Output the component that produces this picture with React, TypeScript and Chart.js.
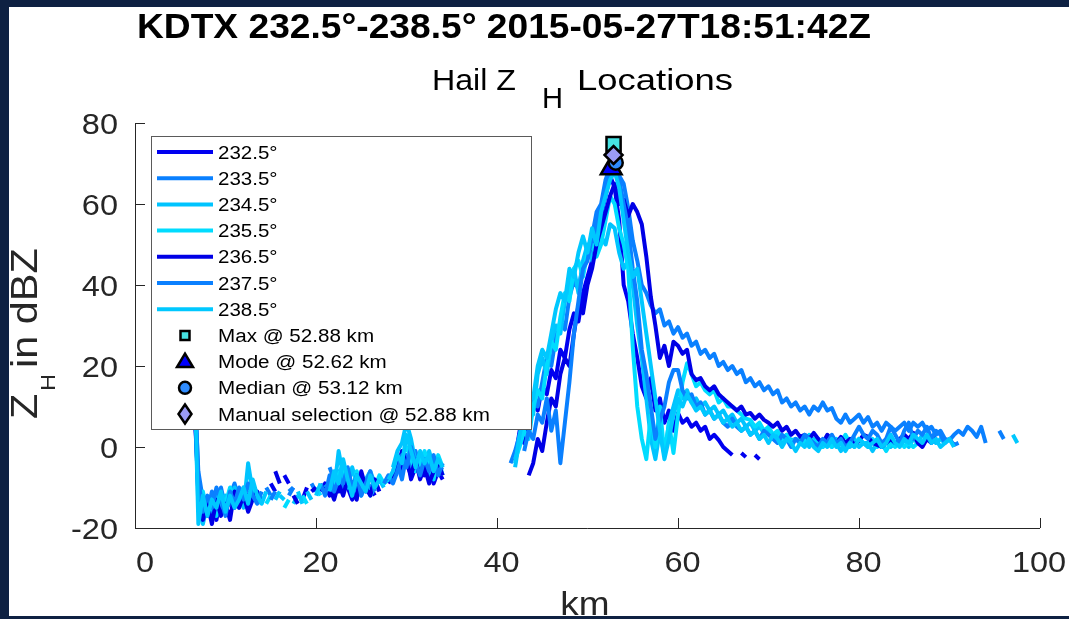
import React, { useEffect, useRef } from 'react';
import { Chart, registerables } from 'chart.js';

Chart.register(...registerables);

// ---------------- data ----------------
const KM_NEAR = [
  6.5, 7, 7.5, 8, 8.5, 9, 9.5, 10, 10.5, 11,
  11.5, 12, 12.5, 13, 13.5, 14, 14.5, 15, 15.5, 16,
  16.5, 17, 17.5, 18, 18.5, 19, 19.5, 20, 20.5, 21,
  21.5, 22, 22.5, 23, 23.5, 24, 24.5, 25, 25.5, 26,
  26.5, 27, 27.5, 28, 28.5, 29, 29.5, 30, 30.5, 31,
  31.5, 32, 32.5, 33, 33.5, 34,
];
const GAP_KM = 38;
const KM_FAR = [
  41.5, 42, 42.5, 43, 43.5, 44, 44.5, 45, 45.5, 46,
  46.5, 47, 47.5, 48, 48.5, 49, 49.5, 50, 50.5, 51,
  51.5, 52, 52.5, 53, 53.5, 54, 54.5, 55, 55.5, 56,
  56.5, 57, 57.5, 58, 58.5, 59, 59.5, 60, 60.5, 61,
  61.5, 62, 62.5, 63, 63.5, 64, 64.5, 65, 65.5, 66,
  66.5, 67, 67.5, 68, 68.5, 69, 69.5, 70, 70.5, 71,
  71.5, 72, 72.5, 73, 73.5, 74, 74.5, 75, 75.5, 76,
  76.5, 77, 77.5, 78, 78.5, 79, 79.5, 80, 80.5, 81,
  81.5, 82, 82.5, 83, 83.5, 84, 84.5, 85, 85.5, 86,
  86.5, 87, 87.5, 88, 88.5, 89, 89.5, 90, 90.5, 91,
  91.5, 92, 92.5, 93, 93.5, 94, 94.5, 95, 95.5, 96,
  96.5, 97, 97.5,
];

const AZIMUTHS = ['232.5°', '233.5°', '234.5°', '235.5°', '236.5°', '237.5°', '238.5°'];
const COLORS = ['#0000f0', '#0a80ff', '#00c4ff', '#00dcff', '#0000e6', '#0a80ff', '#00c8ff'];

const Z_232_NEAR = [
  12, -9, -15, -17, -14, -18, -12, -16, -13, -15,
  -11, -14, -12, -10, -13, null, null, -9, -11, null,
  -7, -9, null, null, -13, -10, null, null, -11, -9,
  -12, -8, -11, -6, -10, -13, -9, -7, -11, -10,
  -12, null, null, -9, -7, -3, -6, -2, -8, -5,
  -3, -7, -4, -9, -6, -8,
];
const Z_233_NEAR = [
  18, -6, -13, -16, -11, -14, -10, -15, -12, -9,
  -13, -10, -14, -11, -12, null, -10, -12, null, null,
  null, -11, -10, null, null, null, -9, -11, null, null,
  -5, -8, -6, -10, -7, -12, -9, -11, -8, -10,
  null, -9, -8, null, -6, -4, -8, -2, -5, -1,
  -6, -4, -8, -3, -6, -5,
];
const Z_234_NEAR = [
  22, -12, -19, -14, -16, -11, -15, -12, -14, -10,
  -12, -15, -4, -11, -13, -12, null, null, -13, -11,
  null, null, -14, -12, null, -11, -13, null, null, -10,
  -9, -11, -1, -7, -10, -5, -9, -12, -8, -6,
  -9, -8, -10, null, -5, -1, 1, 6, 2, -4,
  -2, -6, -1, -5, -3, -7,
];
const Z_235_NEAR = [
  20, -15, -11, -16, -13, -17, -12, -14, -10, -13,
  -15, -11, -13, -9, -12, null, -14, -12, null, null,
  -15, -13, null, null, -12, -14, null, -10, -12, null,
  -8, -10, -7, -4, -9, -11, -6, -10, -9, -12,
  -10, -7, -9, -8, null, -4, -2, 0, -3, -6,
  -4, -1, -5, -8, -2, -5,
];
const Z_236_NEAR = [
  16, -12, -18, -14, -19, -13, -17, -14, -18, -11,
  -15, -12, -16, -13, -11, -14, null, null, -6, -9,
  null, null, -12, -14, null, null, -11, -10, null, null,
  -10, -13, -9, -12, -8, -11, -13, -6, -10, -12,
  -8, -11, null, null, -8, -5, -1, -4, -7, -3,
  -8, -5, -9, -6, -4, -7,
];
const Z_237_NEAR = [
  24, -8, -16, -12, -15, -10, -13, -17, -11, -14,
  -10, -13, -9, -12, -14, -11, null, -13, -11, null,
  null, -12, -10, null, null, -13, null, null, -9, -12,
  -7, -11, -8, -9, -5, -10, -7, -12, -9, -6,
  -11, null, -9, -7, -9, -6, -2, -5, 0, -4,
  -7, -3, -6, -2, -7, -4,
];
const Z_238_NEAR = [
  25, -19, -12, -17, -13, -15, -11, -16, -12, -15,
  -13, -10, -14, -8, -12, -14, -11, null, null, -12,
  -13, null, null, -11, -14, null, null, -12, -9, null,
  -11, -6, -9, -3, -8, -12, -7, -9, -11, -7,
  -10, -8, null, -8, -6, -2, -4, 3, -1, -5,
  -1, -4, -2, -6, -3, -5,
];

const Z_232_FAR = [
  null, -3, 4, 1, 7, 11, 9, 15, 13, 19,
  17, 24, 22, 29, 33, 31, 38, 42, 46, 52,
  57, 62, 67, 64, 56, 40, 36, 28, 22, 15,
  12, 17, 9, 12, 6, 9, 4, 8.4, 6, 7,
  5, 6, 4, 5, 2, 3, 1.7, 0, -1, -2,
  null, -1.5, -2.5, null, -2, -3, null, null, null, null,
  null, null, null, null, null, null, null, null, null, null,
  null, null, null, null, null, null, null, null, null, null,
  null, null, null, null, null, null, null, null, null, null,
  null, null, null, null, null, null, null, null, null, null,
  null, null, null, null, null, null, null, null, null, null,
  null, null, null,
];
const Z_233_FAR = [
  -4, -1, 3, 8, 5, 12, 10, 16, 22, 20,
  27, 31, 29, 37, 41, 39, 45, 49, 47, 55,
  59, 63, 69, 72, 67, 65, 59, 51, 46, 40,
  38, 35, 33, 34, 30, 31, 28, 29.6, 27, 28,
  25, 26, 23, 24, 22, 23, 20, 21, 19, 20,
  18, 19, 16, 17, 15, 16, 14, 15, 13, 14,
  11, 12, 10, 11, 9, 10, 8, 10, 9, 11,
  9, 9.6, 7, 6, 8, 6, 7, 8, 6, 7.4,
  5, 6, 4, 6, 5, 4, 5, 6, 4, 6,
  5, 6, 4, 5, 3, 4, 2, 1.7, 3, 4,
  3, 5, 4, 2.5, 5, 1, null, null, 4, 2,
  null, null, null,
];
const Z_234_FAR = [
  null, -5, 2, 6, 12, 8, 18, 22, 18, 26,
  30, 28, 36, 40, 44, 38, 46, 50, 46, 48,
  52, 50, 55, 54, 48, 44, 46, 40, 30, 22,
  12, 2, -3, 4, -2, 6, 10, 14, 12, 14,
  11, 12, 10, 11, 9, 10, 8, 9, 7, 8,
  6, 7, 5, 6, 4, 5, 3.5, 4, 2, 3,
  1, 3, 1.7, 2, 1, 2, 0, 2, 1, 0,
  2, 0, 1, -1, 1, 0, 2, 0, 1, 1,
  -1, 1, 0, 2, 0, 1, 1, 2, 0, 2,
  1, 3, 2, 2.5, 1, 2, 1, null, null, null,
  null, null, null, null, null, null, null, null, null, null,
  null, null, null,
];
const Z_235_FAR = [
  null, -3, 0, 4, 2, 10, 14, 12, 20, 26,
  24, 32, 38, 36, 44, 46, 42, 48, 50, 47,
  50, 56, 62, 60, 54, 50, 44, 24.7, 10, 2,
  -3, 8, 0, 10, -2, 6, -1.5, 8, 16, 20.7,
  18, 15, 16, 14, 13, 14, 11, 12, 10, 10,
  9, 8, 7, 6.7, 5, 6, 4, 5, 3, 4,
  2, 3, 1, 2, 1.7, 1, 3, 1, 2, 0,
  1, 0, 2, 1, 3, 1, 0, 2, 1, 0,
  2, 0, 1, -1, 1, 0, 2, 0, 1, 0,
  1, null, null, null, null, null, null, null, null, null,
  null, null, null, null, null, null, null, null, null, null,
  null, null, null,
];
const Z_236_FAR = [
  null, null, null, null, -7, -4, 2, -1, 6, 12,
  10, 18, 22, 20, 28, 35, 33, 40, 44, 50,
  54, 58, 62, 65, 60, 61, 57, 60, 58, 55,
  47, 37, 30, 22, 25, 20, 26, 25, 23, 24,
  18, 16.5, 17, 15, 14, 15, 13, 12, 11, 10,
  9, 10, 8, 8.4, 7, 8, 6.7, 6, 5, 6,
  4, 5, 3, 4, 2.5, 3, 2, 3.5, 2, 1,
  3, 2, 1, 2.5, 1, 2, 0.5, 1.5, 3, 2.5,
  1, 0.5, 0, 1, 2, 1, 2, 3, 2, 3.5,
  1, 0, 2, 1, 2.5, null, null, null, null, null,
  null, null, null, null, null, null, null, null, null, null,
  null, null, null,
];
const Z_237_FAR = [
  null, null, null, -1, 4, 2, 8, 6, 12, 4,
  9, -4, 6, 16, 28, 36, 44, 46, 52, 58,
  60, 66, 69, 70, 66, 60, 54, 44, 36, 24,
  18, 10, 2, 6.7, 10, 16, 19, 19, 14, 12,
  13, 10, 11, 8, 9, 7, 8, 6, 5, 7,
  5, 4, 5, 3, 4, 2, 4, 3, 2, 1,
  3, 2, 0, 2, 1, 3, 2, 1, 0, 2,
  1, 3, 1, 2, 0, 1, 3, 5, 3, 2,
  4, 3, 1, 2, 5, 3, 1, 4, 6, 2,
  4, 3, 5, 2, 4, 3, 1, 2, 0.5, 1,
  null, null, null, null, null, null, null, null, null, null,
  null, null, null,
];
const Z_238_FAR = [
  null, -4, 3, 8, 14, 12, 20, 24, 22, 28,
  34, 38, 36, 44, 42, 48, 52, 48, 54, 50,
  58, 62, 66, 68, 64, 56, 48, 42, 44, 36,
  28, 20, 12, 4, -3, 2, 8, 12, 10, 13,
  11, 9, 10, 8, 9, 7, 8, 6, 7, 5,
  6, 4, 5, 3, 4, 2, 3, 1, 3, 2,
  0, 2, 1, -1, 1, 0, 2, 0, -1, 1,
  0, 2, 0, 1, -1, 1, 0, 2, 1, 0,
  1, 2, 0, 1, 3, 1, 0, 2, 1, 3,
  2, 1, 3, 1, 2, 0, 1, 2, 0, null,
  null, null, null, null, null, null, null, null, null, null,
  null, 3, 1,
];

const NEAR_SERIES = [Z_232_NEAR, Z_233_NEAR, Z_234_NEAR, Z_235_NEAR, Z_236_NEAR, Z_237_NEAR, Z_238_NEAR];
const FAR_SERIES = [Z_232_FAR, Z_233_FAR, Z_234_FAR, Z_235_FAR, Z_236_FAR, Z_237_FAR, Z_238_FAR];

const MARKER_LABELS = ['Max @ 52.88 km', 'Mode @ 52.62 km', 'Median @ 53.12 km', 'Manual selection @ 52.88 km'];
const MARKER_KM = [52.88, 52.62, 53.12, 52.88];
const MARKER_Z = [74.8, 68.8, 70.2, 72.1];
const MARKER_FILL = ['#46e3e3', '#0000ff', '#2f8cff', '#9b9bf5'];
const MARKER_STYLE = ['rect', 'triangle', 'circle', 'rectRot'];
const MARKER_RADIUS = [10, 12, 7, 9];

const X_TICKS = [0, 20, 40, 60, 80, 100];
const Y_TICKS = [-20, 0, 20, 40, 60, 80];

const TITLE = 'KDTX 232.5°-238.5° 2015-05-27T18:51:42Z';
const SUBTITLE_PARTS = ['Hail Z', 'H', 'Locations'];
const Y_LABEL_PARTS = ['Z', 'H', 'in dBZ'];
const X_LABEL = 'km';

// ---------------- drawing helpers ----------------
const FONT = '"Liberation Sans", Arial, Helvetica, sans-serif';
const NAVY = '#0e2142';
const AXIS = '#262626';

function measure(ctx: CanvasRenderingContext2D, s: string, size: number, bold = false) {
  ctx.save();
  ctx.font = `${bold ? 'bold ' : ''}${size}px ${FONT}`;
  const w = ctx.measureText(s).width;
  ctx.restore();
  return w;
}

function drawText(
  ctx: CanvasRenderingContext2D, s: string, x: number, y: number, size: number,
  opts: { bold?: boolean; align?: string; sx?: number; color?: string } = {}
) {
  const sx = opts.sx ?? 1.12;
  ctx.save();
  ctx.font = `${opts.bold ? 'bold ' : ''}${size}px ${FONT}`;
  const w = ctx.measureText(s).width * sx;
  const left = opts.align === 'center' ? x - w / 2 : opts.align === 'right' ? x - w : x;
  ctx.translate(left, y);
  ctx.scale(sx, 1);
  ctx.fillStyle = opts.color ?? '#000';
  ctx.textAlign = 'left';
  ctx.textBaseline = 'alphabetic';
  ctx.fillText(s, 0, 0);
  ctx.restore();
  return w;
}

// draw text stretched to a given width starting at x
function drawFitted(ctx: CanvasRenderingContext2D, s: string, x: number, y: number, size: number, width: number, bold = false) {
  const raw = measure(ctx, s, size, bold);
  drawText(ctx, s, x, y, size, { bold, sx: width / raw });
}

function legendMarker(ctx: CanvasRenderingContext2D, style: string, x: number, y: number, fill: string) {
  ctx.save();
  ctx.fillStyle = fill;
  ctx.strokeStyle = '#000';
  ctx.lineWidth = 2.5;
  ctx.lineJoin = 'miter';
  ctx.beginPath();
  if (style === 'rect') {
    ctx.rect(x - 4.5, y - 4.5, 9, 9);
  } else if (style === 'triangle') {
    ctx.moveTo(x, y - 8);
    ctx.lineTo(x + 8, y + 5.5);
    ctx.lineTo(x - 8, y + 5.5);
    ctx.closePath();
  } else if (style === 'circle') {
    ctx.arc(x, y, 6, 0, Math.PI * 2);
  } else {
    ctx.moveTo(x, y - 9.5);
    ctx.lineTo(x + 6.5, y);
    ctx.lineTo(x, y + 9.5);
    ctx.lineTo(x - 6.5, y);
    ctx.closePath();
  }
  ctx.fill();
  ctx.stroke();
  ctx.restore();
}

const decorPlugin = {
  id: 'matlabDecor',
  beforeDraw(chart: any) {
    const ctx = chart.ctx as CanvasRenderingContext2D;
    ctx.save();
    ctx.fillStyle = '#ffffff';
    ctx.fillRect(0, 0, chart.width, chart.height);
    ctx.restore();
  },
  afterDraw(chart: any) {
    const ctx = chart.ctx as CanvasRenderingContext2D;
    const ca = chart.chartArea;
    const xs = chart.scales.x;
    const ys = chart.scales.y;

    // axes lines
    ctx.save();
    ctx.strokeStyle = AXIS;
    ctx.lineWidth = 1;
    ctx.beginPath();
    ctx.moveTo(Math.round(ca.left) + 0.5, Math.round(ca.top));
    ctx.lineTo(Math.round(ca.left) + 0.5, Math.round(ca.bottom) + 0.5);
    ctx.lineTo(Math.round(ca.right), Math.round(ca.bottom) + 0.5);
    ctx.stroke();
    // inward ticks
    ctx.beginPath();
    Y_TICKS.forEach((v) => {
      const py = Math.round(ys.getPixelForValue(v)) + 0.5;
      ctx.moveTo(ca.left, py);
      ctx.lineTo(ca.left + 10, py);
    });
    X_TICKS.forEach((v) => {
      const px = Math.round(xs.getPixelForValue(v)) + 0.5;
      ctx.moveTo(px, ca.bottom);
      ctx.lineTo(px, ca.bottom - 10);
    });
    ctx.stroke();
    ctx.restore();

    // tick labels
    Y_TICKS.forEach((v) => {
      const py = ys.getPixelForValue(v);
      drawText(ctx, String(v), ca.left - 17, py + 10.5, 29, { align: 'right', color: AXIS });
    });
    X_TICKS.forEach((v) => {
      const px = xs.getPixelForValue(v);
      const s = String(v);
      const off = 10 - 5.5 * (s.length - 1);
      drawText(ctx, s, px + off, ca.bottom + 44, 29, { align: 'center', color: AXIS });
    });

    // x label
    drawText(ctx, X_LABEL, 585, ca.bottom + 87, 33, { align: 'center', color: AXIS });

    // y label (rotated, with subscript)
    ctx.save();
    ctx.translate(37, 419);
    ctx.rotate(-Math.PI / 2);
    drawText(ctx, Y_LABEL_PARTS[0], 0, 0, 37, { color: AXIS });
    drawText(ctx, Y_LABEL_PARTS[1], 28, 18, 21, { color: AXIS });
    drawText(ctx, Y_LABEL_PARTS[2], 51, 0, 37, { color: AXIS });
    ctx.restore();

    // title
    drawFitted(ctx, TITLE, 137, 38, 35, 734, true);

    // subtitle with subscript
    drawFitted(ctx, SUBTITLE_PARTS[0], 432, 90, 29, 84);
    drawFitted(ctx, SUBTITLE_PARTS[1], 542, 108, 29, 21);
    drawFitted(ctx, SUBTITLE_PARTS[2], 577, 90, 29, 156);

    // legend
    const lx = 151.5, ly = 136.5, lw = 380, lh = 293;
    ctx.save();
    ctx.fillStyle = '#ffffff';
    ctx.fillRect(lx, ly, lw, lh);
    ctx.strokeStyle = '#5a5a5a';
    ctx.lineWidth = 1;
    ctx.strokeRect(lx, ly, lw, lh);
    ctx.restore();
    const rowH = 26.2;
    const ds = chart.data.datasets;
    let row = 0;
    AZIMUTHS.forEach((label, i) => {
      const y = 152 + row * rowH;
      ctx.save();
      ctx.strokeStyle = ds[i].borderColor;
      ctx.lineWidth = 4;
      ctx.beginPath();
      ctx.moveTo(157, y);
      ctx.lineTo(213, y);
      ctx.stroke();
      ctx.restore();
      drawText(ctx, label, 218, y + 6.5, 18, { sx: 1.14 });
      row++;
    });
    MARKER_LABELS.forEach((label, i) => {
      const y = 152 + row * rowH;
      legendMarker(ctx, MARKER_STYLE[i], 185, y, MARKER_FILL[i]);
      drawText(ctx, label, 218, y + 6.5, 18, { sx: 1.145 });
      row++;
    });

    // navy frame
    ctx.save();
    ctx.fillStyle = NAVY;
    ctx.fillRect(0, 0, chart.width, 7);
    ctx.fillRect(0, 0, 9, chart.height);
    ctx.fillRect(0, 616, chart.width, chart.height - 616);
    ctx.restore();
  },
};

export default function App() {
  const canvasRef = useRef<HTMLCanvasElement | null>(null);

  useEffect(() => {
    const canvas = canvasRef.current;
    if (!canvas) return;

    const lineSets = AZIMUTHS.map((label, i) => ({
      type: 'line' as const,
      label,
      data: [
        ...KM_NEAR.map((k, j) => ({ x: k, y: NEAR_SERIES[i][j] })),
        { x: GAP_KM, y: null },
        ...KM_FAR.map((k, j) => ({ x: k, y: FAR_SERIES[i][j] })),
      ],
      borderColor: COLORS[i],
      backgroundColor: COLORS[i],
      borderWidth: 4,
      pointRadius: 0,
      spanGaps: false,
      tension: 0,
      borderJoinStyle: 'round' as const,
      borderCapStyle: 'butt' as const,
      order: 20 - i,
    }));

    const markerSets = MARKER_LABELS.map((label, i) => ({
      type: 'scatter' as const,
      label,
      data: [{ x: MARKER_KM[i], y: MARKER_Z[i] }],
      pointStyle: MARKER_STYLE[i],
      pointRadius: MARKER_RADIUS[i],
      pointBackgroundColor: MARKER_FILL[i],
      pointBorderColor: '#000000',
      pointBorderWidth: 2.5,
      showLine: false,
      order: 4 - i,
    }));

    const chart = new Chart(canvas, {
      type: 'line',
      data: { datasets: [...lineSets, ...markerSets] as any },
      options: {
        responsive: false,
        animation: false,
        devicePixelRatio: 1,
        events: [],
        layout: { padding: { left: 0, right: 29, top: 123, bottom: 0 } },
        plugins: {
          legend: { display: false },
          tooltip: { enabled: false },
          title: { display: false },
        },
        scales: {
          x: {
            type: 'linear',
            min: 0,
            max: 100,
            grid: { display: false },
            border: { display: false },
            ticks: { display: false },
            afterFit: (s: any) => { s.height = 91; },
          },
          y: {
            type: 'linear',
            min: -20,
            max: 80,
            grid: { display: false },
            border: { display: false },
            ticks: { display: false },
            afterFit: (s: any) => { s.width = 135; },
          },
        },
      },
      plugins: [decorPlugin],
    } as any);

    return () => chart.destroy();
  }, []);

  return (
    <div style={{ position: 'absolute', left: 0, top: 0, width: 1069, height: 619, background: '#fff' }}>
      <canvas ref={canvasRef} width={1069} height={619} style={{ display: 'block', width: 1069, height: 619 }} />
    </div>
  );
}
